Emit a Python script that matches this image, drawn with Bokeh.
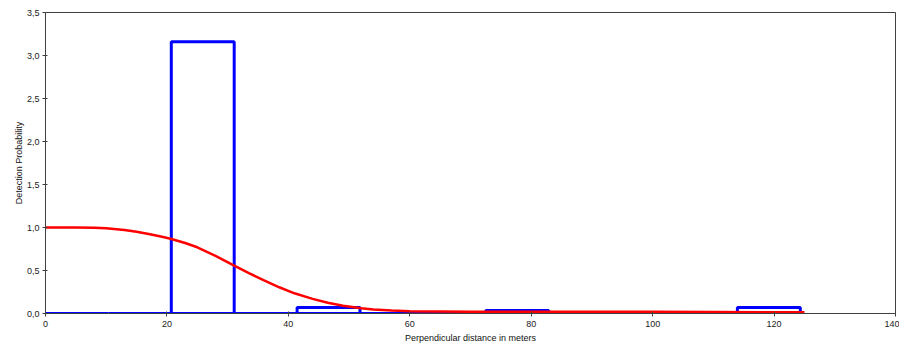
from bokeh.plotting import figure
from bokeh.models import FixedTicker, Range1d, ColumnDataSource
from bokeh.embed import file_html
from bokeh.resources import INLINE

# Histogram bins (perpendicular distance, m) and scaled frequencies
bin_left = [0.0, 10.36, 20.72, 31.08, 41.44, 51.8, 62.16, 72.52, 82.88, 93.24, 103.6, 113.96]
bin_right = [10.36, 20.72, 31.08, 41.44, 51.8, 62.16, 72.52, 82.88, 93.24, 103.6, 113.96, 124.32]
bin_value = [0.0, 0.0, 3.16, 0.0, 0.07, 0.0, 0.0, 0.035, 0.0, 0.0, 0.0, 0.07]

# Fitted detection function
curve_x = [0, 5, 8, 10, 13, 15, 17, 19, 20.6, 23, 25, 28, 31, 33.5, 36, 38.5, 41, 44, 46.5, 49, 52, 54,
           57, 60, 70, 80, 90, 100, 110, 120, 125]
curve_y = [1.0, 1.0, 0.998, 0.99, 0.97, 0.95, 0.925, 0.895, 0.87, 0.82, 0.77, 0.67, 0.56, 0.47,
           0.385, 0.305, 0.235, 0.17, 0.125, 0.09, 0.06, 0.046, 0.034, 0.027, 0.021, 0.02, 0.02, 0.019,
           0.018, 0.015, 0.015]

x_ticks = [0, 20, 40, 60, 80, 100, 120, 140]
x_tick_labels = ["0", "20", "40", "60", "80", "100", "120", "140"]
y_ticks = [0.0, 0.5, 1.0, 1.5, 2.0, 2.5, 3.0, 3.5]
y_tick_labels = ["0,0", "0,5", "1,0", "1,5", "2,0", "2,5", "3,0", "3,5"]

FONT = "Liberation Sans"
AX = "#404040"

p = figure(width=899, height=348, output_backend="svg", toolbar_location=None,
           x_range=Range1d(0, 140), y_range=Range1d(0, 3.5),
           min_border_left=45, min_border_right=4, min_border_top=12, min_border_bottom=35)
p.grid.visible = False
p.outline_line_color = AX
p.outline_line_width = 1
p.background_fill_color = "white"
p.border_fill_color = "white"

src = ColumnDataSource(dict(left=bin_left, right=bin_right, top=bin_value, bottom=[0.0] * len(bin_value)))
p.quad(left="left", right="right", top="top", bottom="bottom", source=src,
       fill_color=None, line_color="#0000FF", line_width=3)
p.line(curve_x, curve_y, line_color="#FF0000", line_width=2.5)

for ax in (p.xaxis[0], p.yaxis[0]):
    ax.axis_line_color = AX
    ax.major_tick_line_color = AX
    ax.minor_tick_line_color = None
    ax.major_label_text_font = FONT
    ax.major_label_text_font_size = "9px"
    ax.major_label_text_color = "#222222"
    ax.axis_label_text_font = FONT
    ax.axis_label_text_font_size = "9px"
    ax.axis_label_text_font_style = "normal"
    ax.axis_label_text_color = "#111111"
    ax.major_tick_in = 2
    ax.major_tick_out = 3

p.xaxis.ticker = FixedTicker(ticks=x_ticks)
p.xaxis.major_label_overrides = {t: l for t, l in zip(x_ticks, x_tick_labels)}
p.yaxis.ticker = FixedTicker(ticks=y_ticks)
p.yaxis.major_label_overrides = {t: l for t, l in zip(y_ticks, y_tick_labels)}
p.xaxis.axis_label = "Perpendicular distance in meters"
p.yaxis.axis_label = "Detection Probability"
p.xaxis.major_label_standoff = 4
p.xaxis.axis_label_standoff = 3
p.yaxis.major_label_standoff = 3
p.yaxis.axis_label_standoff = 0

open("out.html", "w").write(file_html(p, INLINE))
